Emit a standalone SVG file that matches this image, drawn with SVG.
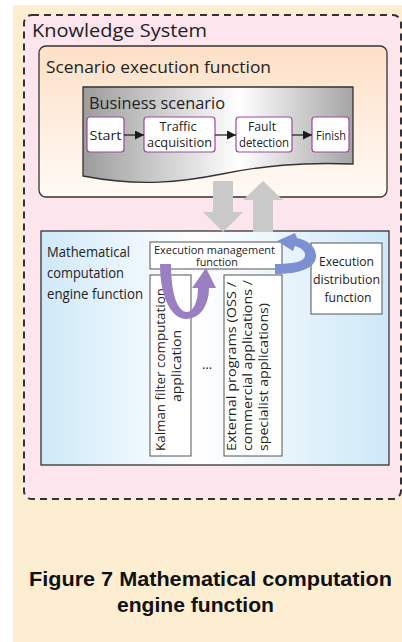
<svg xmlns="http://www.w3.org/2000/svg" width="402" height="642" viewBox="0 0 402 642">
  <defs>
    <linearGradient id="gScenario" x1="0" y1="0" x2="0" y2="1">
      <stop offset="0" stop-color="#fde0c6"/>
      <stop offset="1" stop-color="#fffaf5"/>
    </linearGradient>
    <linearGradient id="gBusiness" x1="0" y1="0" x2="1" y2="0">
      <stop offset="0" stop-color="#9c9c9c"/>
      <stop offset="0.58" stop-color="#ffffff"/>
      <stop offset="1" stop-color="#a4a4a4"/>
    </linearGradient>
    <linearGradient id="gEngine" x1="0" y1="0" x2="1" y2="0">
      <stop offset="0" stop-color="#cfe9f8"/>
      <stop offset="0.45" stop-color="#ffffff"/>
      <stop offset="1" stop-color="#cde8f8"/>
    </linearGradient>
    <marker id="arrow" viewBox="0 0 10 10" refX="10" refY="5" markerWidth="9" markerHeight="9" markerUnits="userSpaceOnUse" orient="auto">
      <path d="M0,0 L10,5 L0,10 Z" fill="#1a1a1a"/>
    </marker>
    <style>
      .t { font-family: "Open Sans", "Noto Sans", sans-serif; fill: #222; }
      .mid { text-anchor: middle; }
      .step { fill: #fff; stroke: #9b4a9b; stroke-width: 1.2; }
      .plain { fill: #fff; stroke: #555; stroke-width: 1; }
      .frame { stroke: #333; stroke-width: 1.3; }
      .cap { font-family: "Liberation Sans", Arial, sans-serif; font-weight: bold; font-size: 21px; fill: #111; }
      .flow { stroke: #1a1a1a; stroke-width: 1.2; fill: none; marker-end: url(#arrow); }
    </style>
  </defs>

  <!-- page background -->
  <rect x="0" y="0" width="402" height="642" fill="#ffffff"/>
  <rect x="13" y="5" width="389" height="637" fill="#fdedd1"/>

  <!-- Knowledge System container -->
  <g id="knowledge-system">
    <rect x="24" y="15" width="377" height="484" rx="8" fill="#fde5ed" stroke="#333" stroke-width="2" stroke-dasharray="7 5"/>
    <text class="t" x="32" y="37" font-size="18" textLength="175" lengthAdjust="spacingAndGlyphs">Knowledge System</text>
  </g>

  <!-- Scenario execution function -->
  <g id="scenario-execution">
    <rect class="frame" x="39" y="46" width="348" height="151" rx="7" fill="url(#gScenario)"/>
    <text class="t" x="46" y="73" font-size="16.5" textLength="225" lengthAdjust="spacingAndGlyphs">Scenario execution function</text>
  </g>

  <!-- Business scenario document -->
  <g id="business-scenario">
    <path class="frame" d="M83,87 H353 V164 C300,162 262,166 222,174 C182,182 140,187 83,176 Z" fill="url(#gBusiness)"/>
    <text class="t" x="89" y="109" font-size="16" textLength="136" lengthAdjust="spacingAndGlyphs">Business scenario</text>
  </g>

  <g id="step-start">
    <rect class="step" x="87" y="117" width="37" height="35" rx="3"/>
    <text class="t mid" x="105.5" y="140" font-size="13.5" textLength="32" lengthAdjust="spacingAndGlyphs">Start</text>
  </g>
  <g id="step-traffic">
    <rect class="step" x="144" y="117" width="71" height="35" rx="3"/>
    <text class="t mid" x="178" y="131" font-size="12.5" textLength="37" lengthAdjust="spacingAndGlyphs">Traffic</text>
    <text class="t mid" x="179.5" y="147" font-size="12.5" textLength="65" lengthAdjust="spacingAndGlyphs">acquisition</text>
  </g>
  <g id="step-fault">
    <rect class="step" x="236" y="117" width="56" height="35" rx="3"/>
    <text class="t mid" x="262" y="131" font-size="12.5" textLength="28" lengthAdjust="spacingAndGlyphs">Fault</text>
    <text class="t mid" x="264" y="147" font-size="12.5" textLength="50" lengthAdjust="spacingAndGlyphs">detection</text>
  </g>
  <g id="step-finish">
    <rect class="step" x="312" y="117" width="37" height="35" rx="3"/>
    <text class="t mid" x="331" y="140" font-size="13.5" textLength="30" lengthAdjust="spacingAndGlyphs">Finish</text>
  </g>

  <!-- Mathematical computation engine function -->
  <g id="computation-engine">
    <rect class="frame" x="41" y="231" width="348" height="234" fill="url(#gEngine)"/>
    <text class="t" x="47" y="257" font-size="14.5" textLength="83" lengthAdjust="spacingAndGlyphs">Mathematical</text>
    <text class="t" x="47" y="278" font-size="14.5" textLength="77" lengthAdjust="spacingAndGlyphs">computation</text>
    <text class="t" x="47" y="299" font-size="14.5" textLength="96" lengthAdjust="spacingAndGlyphs">engine function</text>
  </g>

  <g id="execution-management">
    <rect class="plain" x="150" y="242" width="132" height="27"/>
    <text class="t mid" x="214.5" y="253.5" font-size="10.5" textLength="121" lengthAdjust="spacingAndGlyphs">Execution management</text>
    <text class="t mid" x="217" y="266" font-size="10.5" textLength="42" lengthAdjust="spacingAndGlyphs">function</text>
  </g>

  <g id="kalman-filter">
    <rect class="plain" x="150" y="275" width="41" height="181"/>
    <text class="t mid" transform="translate(165,369.5) rotate(-90)" font-size="13" textLength="163" lengthAdjust="spacingAndGlyphs">Kalman filter computation</text>
    <text class="t mid" transform="translate(181,366) rotate(-90)" font-size="13" textLength="72" lengthAdjust="spacingAndGlyphs">application</text>
  </g>

  <g id="ellipsis">
    <text class="t mid" x="207" y="369" font-size="13">…</text>
  </g>

  <g id="external-programs">
    <rect class="plain" x="224" y="275" width="58" height="181"/>
    <text class="t" transform="translate(236,451) rotate(-90)" font-size="13" textLength="169" lengthAdjust="spacingAndGlyphs">External programs (OSS /</text>
    <text class="t" transform="translate(252,451) rotate(-90)" font-size="13" textLength="171" lengthAdjust="spacingAndGlyphs">commercial applications /</text>
    <text class="t" transform="translate(268,451) rotate(-90)" font-size="13" textLength="148" lengthAdjust="spacingAndGlyphs">specialist applications)</text>
  </g>

  <g id="execution-distribution">
    <rect class="plain" x="311" y="243" width="71" height="71"/>
    <text class="t mid" x="346.5" y="266" font-size="13.5" textLength="55" lengthAdjust="spacingAndGlyphs">Execution</text>
    <text class="t mid" x="346.5" y="284" font-size="13.5" textLength="67" lengthAdjust="spacingAndGlyphs">distribution</text>
    <text class="t mid" x="348" y="302" font-size="13.5" textLength="47" lengthAdjust="spacingAndGlyphs">function</text>
  </g>

  <!-- connectors -->
  <g id="connectors">
    <line class="flow" x1="124" y1="135" x2="144" y2="135"/>
    <line class="flow" x1="215" y1="135" x2="236" y2="135"/>
    <line class="flow" x1="292" y1="135" x2="312" y2="135"/>
    <!-- request down to the engine -->
    <path d="M213,181 H233 V212 H243 L223,232 L203,212 H213 Z" fill="#c9c9c9"/>
    <!-- result back up to the scenario -->
    <path d="M253,232 V200 H243 L263,181 L283,200 H273 V232 Z" fill="#c9c9c9"/>
    <!-- call into the application and back -->
    <path d="M160,264 C160,300 173,319 186,319 C200,319 209,305 209,288 L216,288 L206,268 L192,288 L198,288 C198,302 193,312 187,312 C178,312 171,295 171,264 Z" fill="#9a80c2"/>
    <!-- hand-off to the distribution function and back -->
    <path d="M275,274 C300,274 316,268 316,256 C316,246 307,240 297,238 L295,233 L277,241 L293,251 L295,246 C302,248 306,252 305,256 C304,262 292,264 275,264 Z" fill="#7d90d2"/>
  </g>

  <!-- caption -->
  <g id="caption">
    <text class="cap" x="29" y="586" textLength="363" lengthAdjust="spacingAndGlyphs">Figure 7 Mathematical computation</text>
    <text class="cap" x="117" y="612" textLength="157" lengthAdjust="spacingAndGlyphs">engine function</text>
  </g>
</svg>
